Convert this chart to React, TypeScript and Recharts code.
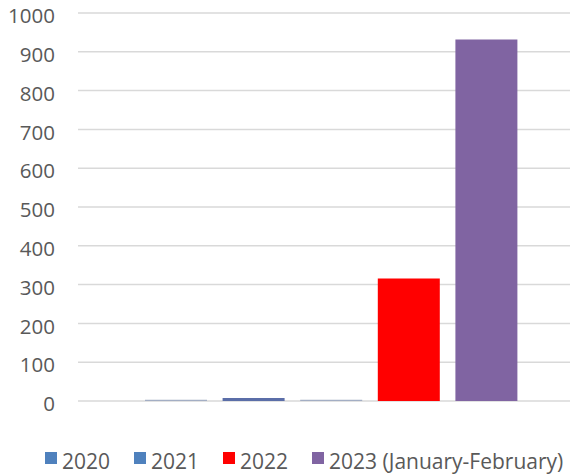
import React from 'react';
import { BarChart, Bar, XAxis, YAxis, CartesianGrid, Cell } from 'recharts';

// bars, left to right (the first and third are barely above zero)
const categories = ['2019', '2020', '2021', '2022', '2023'];
const values = [3, 8, 3, 316, 932];
const barColors = ['#a3aec4', '#5b6ea8', '#a3aec4', '#ff0000', '#8064a2'];

// legend as drawn under the chart
const legendLabels = ['2020', '2021', '2022', '2023 (January-February)'];
const legendColors = ['#4f81bd', '#4f81bd', '#ff0000', '#8064a2'];

const yTicks = [0, 100, 200, 300, 400, 500, 600, 700, 800, 900, 1000];

const data = categories.map((name, i) => ({ name, value: values[i] }));

const FONT = '"Open Sans", sans-serif';
const TEXT = '#595959';

function YTick(props: any) {
    const { x, y, payload } = props;
    return (
        <text x={x} y={y + 3} dy="0.355em" textAnchor="end" fill={TEXT} fontSize={20.5} fontFamily={FONT}>
            {payload.value}
        </text>
    );
}

export default function App() {
    return (
        <div style={{ position: 'relative', width: 570, height: 474, marginTop: -8, background: '#fff', fontFamily: FONT }}>
            <BarChart
                width={570}
                height={440}
                data={data}
                margin={{ top: 13, right: 0, bottom: 39, left: 0 }}
            >
                <CartesianGrid vertical={false} stroke="#d9d9d9" strokeWidth={1.5} />
                <XAxis dataKey="name" hide padding={{ left: 59, right: 53 }} />
                <YAxis
                    domain={[0, 1000]}
                    ticks={yTicks}
                    interval={0}
                    width={70}
                    axisLine={false}
                    tickLine={false}
                    tickSize={0}
                    tickMargin={23}
                    tick={<YTick />}
                />
                <Bar dataKey="value" barSize={62} isAnimationActive={false}>
                    {data.map((d, i) => (
                        <Cell key={d.name} fill={barColors[i]} />
                    ))}
                </Bar>
            </BarChart>

            <div
                style={{
                    position: 'absolute',
                    top: 449,
                    left: 37,
                    height: 24,
                    display: 'flex',
                    alignItems: 'center',
                    gap: 24,
                    fontSize: 21,
                    color: TEXT,
                    whiteSpace: 'nowrap',
                }}
            >
                {legendLabels.map((label, i) => (
                    <div key={label} style={{ display: 'flex', alignItems: 'center' }}>
                        <span
                            style={{
                                display: 'inline-block',
                                width: 12,
                                height: 12,
                                background: legendColors[i],
                                marginRight: 5,
                                position: 'relative',
                                top: -3,
                            }}
                        />
                        <span>{label}</span>
                    </div>
                ))}
            </div>
        </div>
    );
}
